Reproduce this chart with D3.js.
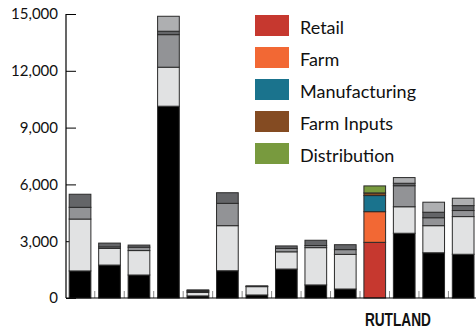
<!DOCTYPE html>
<html>
<head>
<meta charset="utf-8">
<script src="https://cdn.jsdelivr.net/npm/d3@7"></script>
<style>
  html, body { margin: 0; padding: 0; background: #fff; }
  svg { display: block; }
  text { font-family: Lato, "Open Sans", sans-serif; fill: #111; }
</style>
</head>
<body>
<svg id="chart" width="476" height="330"></svg>
<script>
// Jobs by sector for each place; only the highlighted place is labelled.
const places = ["", "", "", "", "", "", "", "", "", "", "RUTLAND", "", "", ""];
const highlighted = "RUTLAND";

const sectors = ["Retail", "Farm", "Manufacturing", "Farm Inputs", "Distribution"];
const retail        = [1430, 1740, 1215, 10130, 110, 1440, 160, 1530,  690,  475, 2940, 3420, 2390, 2310];
const farm          = [2740,  880, 1290,  2060, 180, 2380, 440,  910, 1970, 1830, 1620, 1400, 1430, 1990];
const manufacturing = [ 620,   80,  180,  1720,  60, 1180,  20,  180,  110,  250,  850, 1110,  420,  320];
const farmInputs    = [ 690,  200,  110,   180,  40,  560,  20,  130,  280,  260,  140,  130,  290,  260];
const distribution  = [   0,    0,    0,   790,  40,    0,   0,    0,    0,    0,  370,  300,  530,  390];

const yTicks = [0, 3000, 6000, 9000, 12000, 15000];

const sectorColors = ["#c6382f", "#f26834", "#1a738d", "#844b22", "#789a3e"];
const sectorGrays  = ["#000000", "#e1e2e3", "#929396", "#646568", "#aeafb1"];

const series = [retail, farm, manufacturing, farmInputs, distribution];
const rows = places.map((p, i) => {
  const r = { key: i, place: p };
  sectors.forEach((s, j) => { r[s] = series[j][i]; });
  return r;
});

const svg = d3.select("#chart");

const x = d3.scaleBand()
  .domain(rows.map(d => d.key))
  .range([65.3, 477.9])
  .paddingInner(0.264)
  .paddingOuter(0.132);

const y = d3.scaleLinear()
  .domain([0, 15000])
  .range([298, 14]);

// y axis: inward ticks that sit beneath the bars
const yAxis = d3.axisRight(y)
  .tickValues(yTicks)
  .tickSize(10)
  .tickFormat("");
const yg = svg.append("g").attr("transform", "translate(66,0)").call(yAxis);
yg.select(".domain").remove();
yg.selectAll(".tick line").attr("stroke", "#000").attr("stroke-width", 1);

svg.append("g")
  .selectAll("text")
  .data(yTicks)
  .join("text")
  .attr("x", 58)
  .attr("y", d => y(d))
  .attr("dy", "0.36em")
  .attr("text-anchor", "end")
  .style("font-size", "15px")
  .text(d => d3.format(",")(d));

// small ticks between the bars along the baseline
const boundaries = rows.map(d => x(d.key) - x.step() * x.paddingInner() / 2)
  .concat([x(rows[rows.length - 1].key) + x.bandwidth() + x.step() * x.paddingInner() / 2]);
svg.append("g")
  .selectAll("line")
  .data(boundaries.slice(1))
  .join("line")
  .attr("x1", d => d).attr("x2", d => d)
  .attr("y1", y(0) - 7).attr("y2", y(0))
  .attr("stroke", "#8a8a8a")
  .attr("stroke-width", 1);

// stacked bars
const stack = d3.stack().keys(sectors);
const layers = stack(rows);

svg.append("g")
  .selectAll("g")
  .data(layers)
  .join("g")
  .each(function(layer, j) {
    d3.select(this).selectAll("rect")
      .data(layer.filter(d => d[1] - d[0] > 0))
      .join("rect")
      .attr("x", d => x(d.data.key))
      .attr("width", x.bandwidth())
      .attr("y", d => y(d[1]))
      .attr("height", d => y(d[0]) - y(d[1]))
      .attr("fill", d => d.data.place === highlighted ? sectorColors[j] : sectorGrays[j])
      .attr("stroke", "#2a2a2a")
      .attr("stroke-width", 1);
  });

// axis lines
svg.append("line")
  .attr("x1", 66).attr("x2", 66)
  .attr("y1", y(15000)).attr("y2", y(0))
  .attr("stroke", "#000").attr("stroke-width", 1.2);
svg.append("line")
  .attr("x1", 66).attr("x2", 476)
  .attr("y1", y(0)).attr("y2", y(0))
  .attr("stroke", "#000").attr("stroke-width", 1.2);

// category label
svg.append("g")
  .selectAll("text")
  .data(rows.filter(d => d.place))
  .join("text")
  .attr("x", d => x(d.key) + 1)
  .attr("y", 326)
  .attr("textLength", 66)
  .attr("lengthAdjust", "spacingAndGlyphs")
  .style("font-family", "'Liberation Sans Narrow', 'Liberation Sans', sans-serif")
  .style("font-weight", "bold")
  .style("font-size", "19px")
  .text(d => d.place);

// legend
const legend = svg.append("g")
  .selectAll("g")
  .data(sectors)
  .join("g")
  .attr("transform", (d, i) => `translate(255,${15 + i * 32})`);
legend.append("rect")
  .attr("width", 34).attr("height", 21)
  .attr("fill", (d, i) => sectorColors[i]);
legend.append("text")
  .attr("x", 45).attr("y", 19)
  .style("font-size", "18px")
  .text(d => d);
</script>
</body>
</html>
